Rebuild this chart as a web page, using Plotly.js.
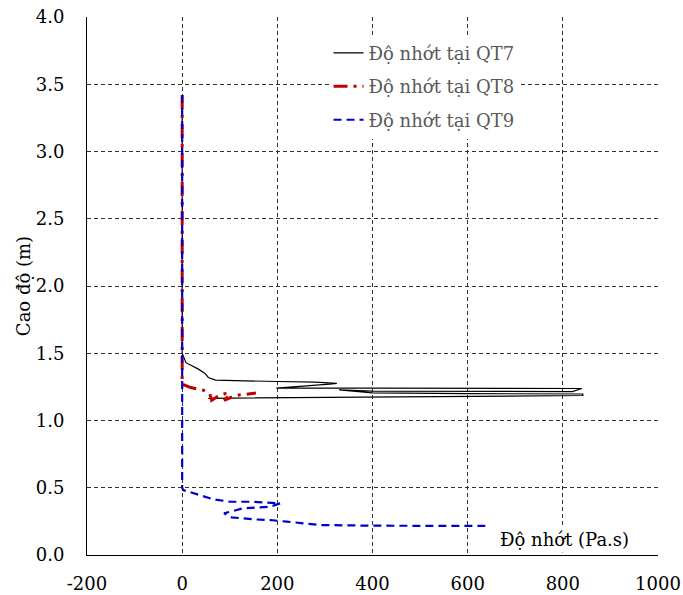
<!DOCTYPE html>
<html>
<head>
<meta charset="utf-8">
<script src="https://cdn.plot.ly/plotly-3.0.1.min.js"></script>
<style>html,body{margin:0;padding:0;background:#fff;}#chart{width:683px;height:595px;}</style>
</head>
<body>
<div id="chart"></div>
<script>
// Series names
const seriesNames = ["Độ nhớt tại QT7", "Độ nhớt tại QT8", "Độ nhớt tại QT9"];

// QT7 (viscosity Pa.s vs elevation m)
const qt7X = [0, 0, 0, 0, 0, 8, 20, 35, 48, 55, 70, 120, 200, 280, 325, 310, 250, 200, 198, 400, 600, 840, 820, 600, 400, 330, 400, 600, 842, 842, 600, 400, 200, 55];
const qt7Y = [3.42, 3.0, 2.5, 2.0, 1.5, 1.43, 1.41, 1.38, 1.35, 1.32, 1.30, 1.295, 1.29, 1.285, 1.276, 1.27, 1.255, 1.245, 1.24, 1.24, 1.239, 1.238, 1.215, 1.214, 1.218, 1.228, 1.205, 1.2, 1.197, 1.186, 1.18, 1.175, 1.17, 1.165];

// QT8
const qt8X = [0, 0, 0, 0, 0, 0, 18, 30, 45, 58, 60, 62, 75, 90, 100, 88, 105, 120, 135, 155];
const qt8Y = [3.42, 3.0, 2.5, 2.0, 1.5, 1.27, 1.245, 1.235, 1.225, 1.20, 1.17, 1.15, 1.18, 1.20, 1.19, 1.15, 1.175, 1.19, 1.195, 1.205];

// QT9
const qt9X = [0, 0, 0, 0, 0, 0, 0, 2, 23, 66, 101, 143, 180, 206, 185, 128, 88, 104, 150, 185, 220, 262, 290, 400, 500, 637];
const qt9Y = [3.42, 3.0, 2.5, 2.0, 1.5, 1.0, 0.5, 0.483, 0.459, 0.414, 0.396, 0.396, 0.39, 0.384, 0.359, 0.347, 0.31, 0.28, 0.265, 0.26, 0.248, 0.236, 0.223, 0.218, 0.217, 0.216];

// Tick values / labels
const xTickVals = [-200, 0, 200, 400, 600, 800, 1000];
const xTickText = ["-200", "0", "200", "400", "600", "800", "1000"];
const yTickVals = [0, 0.5, 1, 1.5, 2, 2.5, 3, 3.5, 4];
const yTickText = ["0.0", "0.5", "1.0", "1.5", "2.0", "2.5", "3.0", "3.5", "4.0"];

// Axis labels
const xTitle = "Độ nhớt (Pa.s)";
const yTitle = "Cao độ (m)";

const FONT = "DejaVu Serif";
const FS = 18;

const traces = [
  {x: qt7X, y: qt7Y, name: seriesNames[0], mode: "lines", legendgroup: "a",
   line: {color: "#000000", width: 1.2, dash: "solid"}},
  {x: qt8X, y: qt8Y, name: seriesNames[1], mode: "lines", legendgroup: "b",
   line: {color: "#C00000", width: 3, dash: "14px,6px,3px,6px"}},
  {x: qt9X, y: qt9Y, name: seriesNames[2], mode: "lines", legendgroup: "c",
   line: {color: "#0000CC", width: 2.2, dash: "8px,5px"}}
];

const layout = {
  width: 683, height: 595,
  margin: {l: 87, r: 25, t: 17, b: 40, pad: 0},
  paper_bgcolor: "#fff", plot_bgcolor: "#fff",
  font: {family: FONT, size: FS, color: "#000"},
  showlegend: true,
  legend: {
    x: 0.423, y: 0.967, xanchor: "left", yanchor: "top",
    bgcolor: "#ffffff", borderwidth: 0,
    font: {family: FONT, size: FS, color: "#595959"},
    traceorder: "grouped", tracegroupgap: 7, itemwidth: 30
  },
  xaxis: {
    range: [-200, 1000], tickmode: "array", tickvals: xTickVals, ticktext: xTickText,
    showgrid: true, gridcolor: "#333333", gridwidth: 1, griddash: "4px,3px",
    zeroline: false, showline: true, linecolor: "#000", linewidth: 1,
    ticks: "", ticklabelstandoff: 12,
    tickfont: {family: FONT, size: FS, color: "#000"},
    title: {text: ""}
  },
  yaxis: {
    range: [0, 4], tickmode: "array", tickvals: yTickVals, ticktext: yTickText,
    showgrid: true, gridcolor: "#333333", gridwidth: 1, griddash: "4px,3px",
    zeroline: false, showline: true, linecolor: "#000", linewidth: 1,
    ticks: "", ticklabelstandoff: 18,
    tickfont: {family: FONT, size: FS, color: "#000"},
    title: {text: yTitle, font: {family: FONT, size: FS, color: "#000"}, standoff: 0}
  },
  annotations: [{
    xref: "paper", yref: "paper", x: 0.9545, y: 0.028, xanchor: "right", yanchor: "middle",
    text: xTitle, showarrow: false, bgcolor: "#ffffff",
    font: {family: FONT, size: FS, color: "#000"}, borderpad: 2
  }]
};

Plotly.newPlot("chart", traces, layout, {displayModeBar: false, staticPlot: true});
</script>
</body>
</html>
